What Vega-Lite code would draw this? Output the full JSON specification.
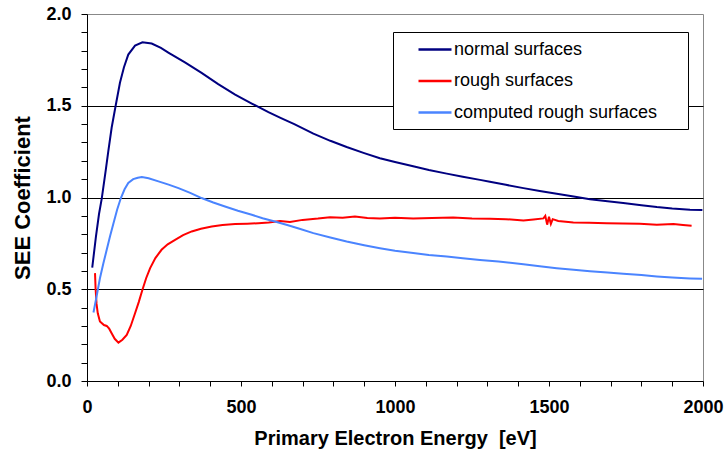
{
  "$schema": "https://vega.github.io/schema/vega-lite/v6.json",
  "width": 616,
  "height": 367,
  "autosize": {"type": "none"},
  "padding": {"left": 87, "top": 14, "right": 25, "bottom": 74},
  "background": "white",
  "config": {
    "font": "Liberation Sans",
    "view": {"stroke": "#888888", "strokeWidth": 1}
  },
  "data": {
    "values": [
      {"s": "normal surfaces", "E": 17, "v": 0.618},
      {"s": "normal surfaces", "E": 29, "v": 0.787},
      {"s": "normal surfaces", "E": 39, "v": 0.91},
      {"s": "normal surfaces", "E": 48, "v": 0.995},
      {"s": "normal surfaces", "E": 61, "v": 1.15},
      {"s": "normal surfaces", "E": 69, "v": 1.25},
      {"s": "normal surfaces", "E": 80, "v": 1.38},
      {"s": "normal surfaces", "E": 93, "v": 1.5},
      {"s": "normal surfaces", "E": 107, "v": 1.625},
      {"s": "normal surfaces", "E": 120, "v": 1.71},
      {"s": "normal surfaces", "E": 134, "v": 1.779},
      {"s": "normal surfaces", "E": 156, "v": 1.828},
      {"s": "normal surfaces", "E": 180, "v": 1.846},
      {"s": "normal surfaces", "E": 210, "v": 1.839},
      {"s": "normal surfaces", "E": 240, "v": 1.815},
      {"s": "normal surfaces", "E": 264, "v": 1.79},
      {"s": "normal surfaces", "E": 318, "v": 1.736},
      {"s": "normal surfaces", "E": 372, "v": 1.679},
      {"s": "normal surfaces", "E": 426, "v": 1.618},
      {"s": "normal surfaces", "E": 481, "v": 1.561},
      {"s": "normal surfaces", "E": 535, "v": 1.512},
      {"s": "normal surfaces", "E": 589, "v": 1.465},
      {"s": "normal surfaces", "E": 630, "v": 1.433},
      {"s": "normal surfaces", "E": 673, "v": 1.4},
      {"s": "normal surfaces", "E": 735, "v": 1.348},
      {"s": "normal surfaces", "E": 790, "v": 1.309},
      {"s": "normal surfaces", "E": 843, "v": 1.275},
      {"s": "normal surfaces", "E": 900, "v": 1.242},
      {"s": "normal surfaces", "E": 951, "v": 1.214},
      {"s": "normal surfaces", "E": 1000, "v": 1.193},
      {"s": "normal surfaces", "E": 1059, "v": 1.17},
      {"s": "normal surfaces", "E": 1110, "v": 1.15},
      {"s": "normal surfaces", "E": 1168, "v": 1.13},
      {"s": "normal surfaces", "E": 1220, "v": 1.113},
      {"s": "normal surfaces", "E": 1276, "v": 1.096},
      {"s": "normal surfaces", "E": 1308, "v": 1.086},
      {"s": "normal surfaces", "E": 1360, "v": 1.069},
      {"s": "normal surfaces", "E": 1417, "v": 1.051},
      {"s": "normal surfaces", "E": 1470, "v": 1.035},
      {"s": "normal surfaces", "E": 1525, "v": 1.02},
      {"s": "normal surfaces", "E": 1580, "v": 1.005},
      {"s": "normal surfaces", "E": 1633, "v": 0.991},
      {"s": "normal surfaces", "E": 1690, "v": 0.98},
      {"s": "normal surfaces", "E": 1741, "v": 0.97},
      {"s": "normal surfaces", "E": 1800, "v": 0.958},
      {"s": "normal surfaces", "E": 1850, "v": 0.948},
      {"s": "normal surfaces", "E": 1900, "v": 0.94},
      {"s": "normal surfaces", "E": 1958, "v": 0.933},
      {"s": "normal surfaces", "E": 1998, "v": 0.932},

      {"s": "rough surfaces", "E": 26, "v": 0.588},
      {"s": "rough surfaces", "E": 28, "v": 0.5},
      {"s": "rough surfaces", "E": 31, "v": 0.42},
      {"s": "rough surfaces", "E": 35, "v": 0.369},
      {"s": "rough surfaces", "E": 42, "v": 0.324},
      {"s": "rough surfaces", "E": 55, "v": 0.305},
      {"s": "rough surfaces", "E": 64, "v": 0.3},
      {"s": "rough surfaces", "E": 72, "v": 0.285},
      {"s": "rough surfaces", "E": 80, "v": 0.26},
      {"s": "rough surfaces", "E": 90, "v": 0.23},
      {"s": "rough surfaces", "E": 102, "v": 0.209},
      {"s": "rough surfaces", "E": 115, "v": 0.225},
      {"s": "rough surfaces", "E": 129, "v": 0.251},
      {"s": "rough surfaces", "E": 142, "v": 0.3},
      {"s": "rough surfaces", "E": 156, "v": 0.369},
      {"s": "rough surfaces", "E": 168, "v": 0.43},
      {"s": "rough surfaces", "E": 180, "v": 0.497},
      {"s": "rough surfaces", "E": 192, "v": 0.56},
      {"s": "rough surfaces", "E": 205, "v": 0.615},
      {"s": "rough surfaces", "E": 222, "v": 0.67},
      {"s": "rough surfaces", "E": 242, "v": 0.715},
      {"s": "rough surfaces", "E": 262, "v": 0.745},
      {"s": "rough surfaces", "E": 286, "v": 0.769},
      {"s": "rough surfaces", "E": 312, "v": 0.795},
      {"s": "rough surfaces", "E": 340, "v": 0.815},
      {"s": "rough surfaces", "E": 370, "v": 0.83},
      {"s": "rough surfaces", "E": 405, "v": 0.842},
      {"s": "rough surfaces", "E": 440, "v": 0.85},
      {"s": "rough surfaces", "E": 481, "v": 0.855},
      {"s": "rough surfaces", "E": 520, "v": 0.857},
      {"s": "rough surfaces", "E": 556, "v": 0.86},
      {"s": "rough surfaces", "E": 590, "v": 0.864},
      {"s": "rough surfaces", "E": 627, "v": 0.872},
      {"s": "rough surfaces", "E": 659, "v": 0.866},
      {"s": "rough surfaces", "E": 700, "v": 0.878},
      {"s": "rough surfaces", "E": 750, "v": 0.885},
      {"s": "rough surfaces", "E": 789, "v": 0.893},
      {"s": "rough surfaces", "E": 830, "v": 0.89},
      {"s": "rough surfaces", "E": 870, "v": 0.897},
      {"s": "rough surfaces", "E": 910, "v": 0.888},
      {"s": "rough surfaces", "E": 951, "v": 0.886},
      {"s": "rough surfaces", "E": 1000, "v": 0.89},
      {"s": "rough surfaces", "E": 1059, "v": 0.886},
      {"s": "rough surfaces", "E": 1120, "v": 0.888},
      {"s": "rough surfaces", "E": 1189, "v": 0.891},
      {"s": "rough surfaces", "E": 1250, "v": 0.886},
      {"s": "rough surfaces", "E": 1308, "v": 0.884},
      {"s": "rough surfaces", "E": 1360, "v": 0.882},
      {"s": "rough surfaces", "E": 1417, "v": 0.875},
      {"s": "rough surfaces", "E": 1450, "v": 0.88},
      {"s": "rough surfaces", "E": 1482, "v": 0.886},
      {"s": "rough surfaces", "E": 1488, "v": 0.9},
      {"s": "rough surfaces", "E": 1494, "v": 0.852},
      {"s": "rough surfaces", "E": 1500, "v": 0.895},
      {"s": "rough surfaces", "E": 1506, "v": 0.856},
      {"s": "rough surfaces", "E": 1512, "v": 0.882},
      {"s": "rough surfaces", "E": 1530, "v": 0.872},
      {"s": "rough surfaces", "E": 1579, "v": 0.864},
      {"s": "rough surfaces", "E": 1630, "v": 0.862},
      {"s": "rough surfaces", "E": 1687, "v": 0.86},
      {"s": "rough surfaces", "E": 1740, "v": 0.858},
      {"s": "rough surfaces", "E": 1795, "v": 0.857},
      {"s": "rough surfaces", "E": 1850, "v": 0.851},
      {"s": "rough surfaces", "E": 1904, "v": 0.855},
      {"s": "rough surfaces", "E": 1935, "v": 0.85},
      {"s": "rough surfaces", "E": 1963, "v": 0.846},

      {"s": "computed rough surfaces", "E": 21, "v": 0.373},
      {"s": "computed rough surfaces", "E": 31, "v": 0.46},
      {"s": "computed rough surfaces", "E": 42, "v": 0.56},
      {"s": "computed rough surfaces", "E": 53, "v": 0.64},
      {"s": "computed rough surfaces", "E": 64, "v": 0.715},
      {"s": "computed rough surfaces", "E": 75, "v": 0.79},
      {"s": "computed rough surfaces", "E": 86, "v": 0.86},
      {"s": "computed rough surfaces", "E": 98, "v": 0.935},
      {"s": "computed rough surfaces", "E": 110, "v": 0.997},
      {"s": "computed rough surfaces", "E": 122, "v": 1.045},
      {"s": "computed rough surfaces", "E": 134, "v": 1.079},
      {"s": "computed rough surfaces", "E": 150, "v": 1.1},
      {"s": "computed rough surfaces", "E": 165, "v": 1.108},
      {"s": "computed rough surfaces", "E": 178, "v": 1.111},
      {"s": "computed rough surfaces", "E": 200, "v": 1.105},
      {"s": "computed rough surfaces", "E": 232, "v": 1.088},
      {"s": "computed rough surfaces", "E": 265, "v": 1.07},
      {"s": "computed rough surfaces", "E": 297, "v": 1.051},
      {"s": "computed rough surfaces", "E": 335, "v": 1.025},
      {"s": "computed rough surfaces", "E": 372, "v": 0.997},
      {"s": "computed rough surfaces", "E": 410, "v": 0.973},
      {"s": "computed rough surfaces", "E": 448, "v": 0.951},
      {"s": "computed rough surfaces", "E": 490, "v": 0.928},
      {"s": "computed rough surfaces", "E": 535, "v": 0.906},
      {"s": "computed rough surfaces", "E": 570, "v": 0.887},
      {"s": "computed rough surfaces", "E": 610, "v": 0.869},
      {"s": "computed rough surfaces", "E": 650, "v": 0.85},
      {"s": "computed rough surfaces", "E": 690, "v": 0.83},
      {"s": "computed rough surfaces", "E": 735, "v": 0.806},
      {"s": "computed rough surfaces", "E": 790, "v": 0.782},
      {"s": "computed rough surfaces", "E": 843, "v": 0.76},
      {"s": "computed rough surfaces", "E": 900, "v": 0.74},
      {"s": "computed rough surfaces", "E": 951, "v": 0.724},
      {"s": "computed rough surfaces", "E": 1000, "v": 0.71},
      {"s": "computed rough surfaces", "E": 1059, "v": 0.697},
      {"s": "computed rough surfaces", "E": 1110, "v": 0.687},
      {"s": "computed rough surfaces", "E": 1168, "v": 0.678},
      {"s": "computed rough surfaces", "E": 1220, "v": 0.669},
      {"s": "computed rough surfaces", "E": 1276, "v": 0.66},
      {"s": "computed rough surfaces", "E": 1336, "v": 0.651},
      {"s": "computed rough surfaces", "E": 1417, "v": 0.636},
      {"s": "computed rough surfaces", "E": 1470, "v": 0.625},
      {"s": "computed rough surfaces", "E": 1525, "v": 0.615},
      {"s": "computed rough surfaces", "E": 1580, "v": 0.606},
      {"s": "computed rough surfaces", "E": 1633, "v": 0.598},
      {"s": "computed rough surfaces", "E": 1690, "v": 0.591},
      {"s": "computed rough surfaces", "E": 1741, "v": 0.584},
      {"s": "computed rough surfaces", "E": 1800, "v": 0.577},
      {"s": "computed rough surfaces", "E": 1850, "v": 0.57},
      {"s": "computed rough surfaces", "E": 1900, "v": 0.564},
      {"s": "computed rough surfaces", "E": 1958, "v": 0.559},
      {"s": "computed rough surfaces", "E": 1997, "v": 0.557}
    ]
  },
  "mark": {"type": "line", "strokeWidth": 2},
  "encoding": {
    "x": {
      "field": "E",
      "type": "quantitative",
      "scale": {"domain": [0, 2000], "nice": false},
      "axis": {
        "title": "Primary Electron Energy \u00a0[eV]",
        "titleFontSize": 20,
        "titleFontWeight": "bold",
        "titleColor": "black",
        "titlePadding": 12,
        "values": [0, 100, 200, 300, 400, 500, 600, 700, 800, 900, 1000, 1100, 1200, 1300, 1400, 1500, 1600, 1700, 1800, 1900, 2000],
        "labelExpr": "datum.value % 500 == 0 ? format(datum.value, 'd') : ''",
        "labelFontSize": 18,
        "labelFontWeight": "bold",
        "labelColor": "black",
        "labelPadding": 12,
        "labelFlush": false,
        "labelOverlap": false,
        "grid": false,
        "domainColor": "black",
        "tickColor": "black",
        "tickSize": 5
      }
    },
    "y": {
      "field": "v",
      "type": "quantitative",
      "scale": {"domain": [0, 2], "nice": false},
      "axis": {
        "title": "SEE Coefficient",
        "titleFontSize": 22,
        "titleFontWeight": "bold",
        "titleColor": "black",
        "titlePadding": 11,
        "values": [0, 0.1, 0.2, 0.3, 0.4, 0.5, 0.6, 0.7, 0.8, 0.9, 1.0, 1.1, 1.2, 1.3, 1.4, 1.5, 1.6, 1.7, 1.8, 1.9, 2.0],
        "labelExpr": "abs(datum.value * 2 - round(datum.value * 2)) < 0.001 ? format(datum.value, '.1f') : ''",
        "labelFontSize": 18,
        "labelFontWeight": "bold",
        "labelColor": "black",
        "labelPadding": 10,
        "labelFlush": false,
        "labelOverlap": false,
        "grid": true,
        "gridColor": {
          "condition": {"test": "abs(datum.value * 2 - round(datum.value * 2)) < 0.001 && datum.value > 0.1 && datum.value < 1.9", "value": "black"},
          "value": "transparent"
        },
        "gridWidth": 1,
        "domainColor": "black",
        "tickColor": "black",
        "tickSize": 6
      }
    },
    "color": {
      "field": "s",
      "type": "nominal",
      "scale": {
        "domain": ["normal surfaces", "rough surfaces", "computed rough surfaces"],
        "range": ["#000080", "#ff0000", "#4a84ff"]
      },
      "legend": {
        "title": null,
        "orient": "none",
        "legendX": 306,
        "legendY": 18,
        "direction": "vertical",
        "fillColor": "white",
        "strokeColor": "black",
        "padding": 7,
        "symbolType": "M-1.833,0H1.833",
        "symbolSize": 324,
        "symbolStrokeWidth": 2.5,
        "symbolOffset": 24.5,
        "labelOffset": 8.5,
        "labelFontSize": 18,
        "labelColor": "black",
        "labelLimit": 400,
        "rowPadding": 11.5,
        "labelExpr": "datum.label + '\u00a0\u00a0\u2800'"
      }
    }
  }
}
